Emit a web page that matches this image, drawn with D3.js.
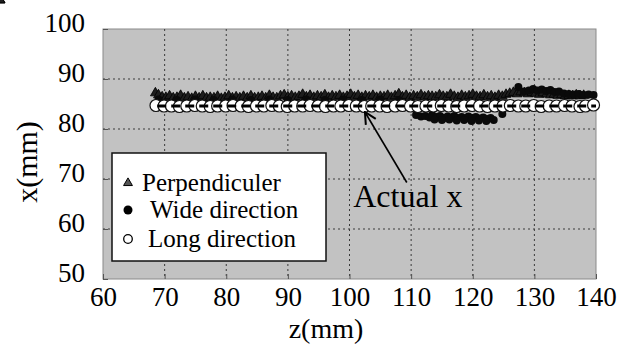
<!DOCTYPE html>
<html>
<head>
<meta charset="utf-8">
<script src="https://cdn.jsdelivr.net/npm/d3@7/dist/d3.min.js"></script>
<style>
  html, body { margin: 0; padding: 0; background: #ffffff; }
  svg { display: block; }
  text { font-family: "Liberation Serif", "Times New Roman", serif; fill: #000; }
</style>
</head>
<body>
<svg id="chart" width="633" height="346"></svg>
<script>
// ---- data -------------------------------------------------------------
const xTicks = [60, 70, 80, 90, 100, 110, 120, 130, 140];
const yTicks = [50, 60, 70, 80, 90, 100];
const actualX = 84.6;

// Long direction (open circles)
const longZ = [68.6, 69.9, 71.1, 72.4, 73.6, 74.9, 76.1, 77.4, 78.6, 79.9, 81.1, 82.4,
  83.6, 84.9, 86.1, 87.4, 88.6, 89.9, 91.1, 92.4, 93.6, 94.9, 96.1, 97.4, 98.6,
  99.9, 101.1, 102.4, 103.6, 104.9, 106.1, 107.4, 108.6, 109.9, 111.1, 112.4,
  113.6, 114.9, 116.1, 117.4, 118.6, 119.9, 121.1, 122.4, 123.6, 124.9, 126.1,
  127.4, 128.6, 129.9, 131.1, 132.4, 133.6, 134.9, 136.1, 137.4, 138.3, 139.6];
const longX = [84.7, 84.6, 84.6, 84.5, 84.6, 84.7, 84.6, 84.5, 84.6, 84.6, 84.7, 84.6,
  84.5, 84.6, 84.6, 84.7, 84.6, 84.5, 84.6, 84.6, 84.7, 84.6, 84.5, 84.6, 84.6,
  84.7, 84.6, 84.5, 84.6, 84.6, 84.5, 84.6, 84.7, 84.6, 84.5, 84.6, 84.6,
  84.7, 84.6, 84.5, 84.6, 84.7, 84.6, 84.5, 84.6, 84.6, 84.7, 84.6, 84.6,
  84.7, 84.5, 84.6, 84.6, 84.7, 84.6, 84.5, 84.6, 84.8];

// Perpendiculer (triangles)
const perpZ = [68.5, 69.0, 69.6, 70.2, 70.8, 71.4, 72.0, 72.6, 73.2, 73.8, 74.4, 75.0,
  75.6, 76.2, 76.8, 77.4, 78.0, 78.6, 79.2, 79.8, 80.4, 81.0, 81.6, 82.2, 82.8,
  83.4, 84.0, 84.6, 85.2, 85.8, 86.4, 87.0, 87.6, 88.2, 88.8, 89.4, 90.0, 90.6,
  91.2, 91.8, 92.4, 93.0, 93.6, 94.2, 94.8, 95.4, 96.0, 96.6, 97.2, 97.8, 98.4,
  99.0, 99.6, 100.2, 100.8, 101.4, 102.0, 102.6, 103.2, 103.8, 104.4, 105.0,
  105.6, 106.2, 106.8, 107.4, 108.0, 108.6, 109.2, 109.8, 110.4, 111.0, 111.6,
  112.2, 112.8, 113.4, 114.0, 114.6, 115.2, 115.8, 116.4, 117.0, 117.6, 118.2,
  118.8, 119.4, 120.0, 120.6, 121.2, 121.8, 122.4, 123.0, 123.6, 124.2, 124.8,
  125.4, 126.0, 126.6, 127.2, 127.8, 128.4, 129.0, 129.6, 130.2, 130.8, 131.4,
  132.0, 132.6, 133.2, 133.8, 134.4, 135.0, 135.6, 136.2, 136.8, 137.4, 138.0,
  138.6, 139.2, 139.8];
const perpX = [87.2, 86.8, 86.4, 86.3, 86.6, 86.2, 86.3, 86.7, 86.2, 86.4, 86.1, 86.5,
  86.2, 86.6, 86.2, 86.3, 86.2, 86.5, 86.1, 86.3, 86.6, 86.2, 86.4, 86.2, 86.5,
  86.2, 86.6, 86.2, 86.3, 86.5, 86.2, 86.7, 86.3, 86.2, 86.6, 86.8, 86.4, 86.6,
  86.3, 86.5, 86.9, 86.4, 86.7, 86.3, 86.6, 86.4, 86.8, 86.3, 86.6, 86.4, 86.7,
  86.3, 86.5, 86.9, 86.4, 86.7, 86.3, 86.6, 86.4, 86.7, 86.3, 86.5, 86.4, 86.7,
  86.3, 86.6, 87.0, 86.4, 86.7, 86.3, 86.6, 86.4, 86.8, 86.4, 86.6, 86.5, 86.4,
  86.8, 86.5, 86.4, 86.9, 86.5, 86.3, 86.7, 86.4, 86.6, 86.9, 86.5, 86.4, 86.8,
  86.4, 86.6, 86.3, 86.7, 86.5, 86.9, 87.1, 87.3, 87.0, 87.4, 87.2, 87.0, 87.3,
  87.1, 86.9, 87.2, 87.0, 86.8, 86.9, 86.7, 86.8, 86.6, 86.7, 86.6, 86.8,
  86.6, 86.7];

// Wide direction (filled circles)
const wideZ = [69.0, 72.0, 75.0, 78.0, 81.0, 84.0, 87.0, 90.0, 93.0, 96.0, 99.0, 102.0,
  105.0, 108.0, 110.8, 111.6, 112.3, 113.0, 113.4, 114.1, 114.7, 115.3, 115.9,
  116.4, 117.0, 117.6, 118.2, 118.8, 119.3, 119.9, 120.5, 121.1, 121.7, 122.3,
  122.9, 113.8, 115.0, 116.2, 117.4, 118.6, 119.8, 121.0, 122.2, 123.4, 124.8,
  127.4, 128.3, 129.1, 129.8, 130.5, 131.2, 131.9, 132.6, 133.3, 134.0, 134.8,
  135.6, 136.4, 137.2, 138.0, 138.8, 139.6];
const wideX = [85.9, 85.8, 85.9, 85.8, 85.9, 85.8, 85.9, 85.8, 85.9, 85.8, 85.9, 85.8,
  85.9, 85.8, 82.8, 82.5, 82.6, 82.3, 82.8, 82.4, 82.6, 82.2, 82.5, 82.3, 82.6,
  82.2, 82.4, 82.1, 82.5, 82.2, 82.4, 82.1, 82.3, 82.0, 82.2, 81.9, 81.8, 81.9,
  81.7, 81.8, 81.6, 81.7, 81.6, 81.8, 83.0, 88.4, 87.5, 87.7, 88.0, 87.7, 87.9,
  87.6, 87.8, 87.4, 87.5, 87.1, 87.0, 86.9, 87.0, 86.8, 86.9, 86.8];

// ---- layout -----------------------------------------------------------
const svg = d3.select("#chart");
const plot = { left: 103, right: 596, top: 29, bottom: 279 };

const x = d3.scaleLinear().domain([60, 140]).range([plot.left, plot.right]);
const y = d3.scaleLinear().domain([50, 100]).range([plot.bottom, plot.top]);

// plot background
svg.append("rect")
  .attr("x", plot.left).attr("y", plot.top)
  .attr("width", plot.right - plot.left)
  .attr("height", plot.bottom - plot.top)
  .attr("fill", "#c2c2c2")
  .attr("stroke", "#8a8a8a")
  .attr("stroke-width", 1);

// dotted grid
const grid = svg.append("g")
  .attr("stroke", "#3a3a3a")
  .attr("stroke-width", 1)
  .attr("stroke-dasharray", "2,3");
grid.selectAll("line.v")
  .data(xTicks.filter(d => d > 60 && d < 140))
  .join("line").attr("class", "v")
  .attr("x1", d => x(d)).attr("x2", d => x(d))
  .attr("y1", plot.top).attr("y2", plot.bottom);
grid.selectAll("line.h")
  .data(yTicks.filter(d => d > 50 && d < 100))
  .join("line").attr("class", "h")
  .attr("y1", d => y(d)).attr("y2", d => y(d))
  .attr("x1", plot.left).attr("x2", plot.right);

// axes: inward ticks, no domain line
const xAxis = d3.axisBottom(x).tickValues(xTicks).tickSize(-5).tickPadding(8);
const yAxis = d3.axisLeft(y).tickValues(yTicks).tickSize(-5).tickPadding(18);

const gx = svg.append("g")
  .attr("transform", `translate(0,${plot.bottom})`)
  .call(xAxis);
const gy = svg.append("g")
  .attr("transform", `translate(${plot.left},0)`)
  .call(yAxis);
[gx, gy].forEach(g => {
  g.attr("font-family", null);
  g.select(".domain").remove();
  g.selectAll(".tick line").attr("stroke", "#555");
  g.selectAll(".tick text")
    .attr("font-family", '"Liberation Serif", serif')
    .attr("font-size", 27)
    .attr("fill", "#000");
});
gy.selectAll(".tick text").attr("dy", "0.1em");

// axis titles
svg.append("text")
  .attr("x", 326)
  .attr("y", 338)
  .attr("text-anchor", "middle")
  .attr("font-size", 28)
  .text("z(mm)");
svg.append("text")
  .attr("transform", "translate(37,162) rotate(-90)")
  .attr("text-anchor", "middle")
  .attr("font-size", 30)
  .text("x(mm)");

// ---- marks ------------------------------------------------------------
const tri = d3.symbol().type(d3.symbolTriangle).size(42);
const perpData = perpZ.map((z, i) => ({ z, v: perpX[i] }));
svg.append("g").selectAll("path")
  .data(perpData)
  .join("path")
  .attr("d", tri)
  .attr("transform", d => `translate(${x(d.z)},${y(d.v)})`)
  .attr("fill", "#1e1e1e")
  .attr("stroke", "#000")
  .attr("stroke-width", 0.8);

const wideData = wideZ.map((z, i) => ({ z, v: wideX[i] }));
svg.append("g").selectAll("circle")
  .data(wideData)
  .join("circle")
  .attr("cx", d => x(d.z))
  .attr("cy", d => y(d.v))
  .attr("r", 4)
  .attr("fill", "#0a0a0a");

const longData = longZ.map((z, i) => ({ z, v: longX[i] }));
svg.append("g").selectAll("circle")
  .data(longData)
  .join("circle")
  .attr("cx", d => x(d.z))
  .attr("cy", d => y(d.v))
  .attr("r", 6)
  .attr("fill", "#ffffff")
  .attr("stroke", "#111")
  .attr("stroke-width", 1.2);

// actual x reference line
svg.append("line")
  .attr("x1", x(68.8)).attr("x2", x(140))
  .attr("y1", y(actualX)).attr("y2", y(actualX))
  .attr("stroke", "#000")
  .attr("stroke-width", 3)
  .attr("stroke-dasharray", "9,5");

// annotation arrow + label
const arrowTip = [102.5, 83.4];
const arrowTail = [109.3, 69.3];
svg.append("defs").append("marker")
  .attr("id", "arrowHead")
  .attr("viewBox", "0 0 10 10")
  .attr("refX", 9).attr("refY", 5)
  .attr("markerWidth", 9).attr("markerHeight", 9)
  .attr("orient", "auto")
  .append("path")
  .attr("d", "M1,1 L9,5 L1,9")
  .attr("fill", "none")
  .attr("stroke", "#000")
  .attr("stroke-width", 1.4);
svg.append("line")
  .attr("x1", x(arrowTail[0])).attr("y1", y(arrowTail[1]))
  .attr("x2", x(arrowTip[0])).attr("y2", y(arrowTip[1]))
  .attr("stroke", "#000")
  .attr("stroke-width", 1.6)
  .attr("marker-end", "url(#arrowHead)");
svg.append("text")
  .attr("x", x(100.6)).attr("y", y(64.5))
  .attr("font-size", 32)
  .text("Actual x");

// ---- legend -----------------------------------------------------------
const legend = svg.append("g").attr("transform", "translate(112,153)");
legend.append("rect")
  .attr("width", 214).attr("height", 108)
  .attr("fill", "#ffffff")
  .attr("stroke", "#111")
  .attr("stroke-width", 1.5);
const legendItems = [
  { label: "Perpendiculer", kind: "tri", ty: 30, tx: 30 },
  { label: "Wide direction", kind: "wide", ty: 57, tx: 38 },
  { label: "Long direction", kind: "long", ty: 86, tx: 36 }
];
const li = legend.selectAll("g.item").data(legendItems).join("g")
  .attr("class", "item")
  .attr("transform", d => `translate(0,${d.ty})`);
li.each(function (d) {
  const g = d3.select(this);
  if (d.kind === "tri") {
    g.append("path").attr("d", d3.symbol().type(d3.symbolTriangle).size(34))
      .attr("transform", "translate(16,0)")
      .attr("fill", "#555").attr("stroke", "#000").attr("stroke-width", 1);
  } else if (d.kind === "wide") {
    g.append("circle").attr("cx", 16).attr("r", 4.5).attr("fill", "#000");
  } else {
    g.append("circle").attr("cx", 16).attr("r", 4.3)
      .attr("fill", "#fff").attr("stroke", "#000").attr("stroke-width", 1.3);
  }
  g.append("text")
    .attr("x", d.tx).attr("dy", "0.33em")
    .attr("font-size", 25)
    .text(d.label);
});
</script>
</body>
</html>
